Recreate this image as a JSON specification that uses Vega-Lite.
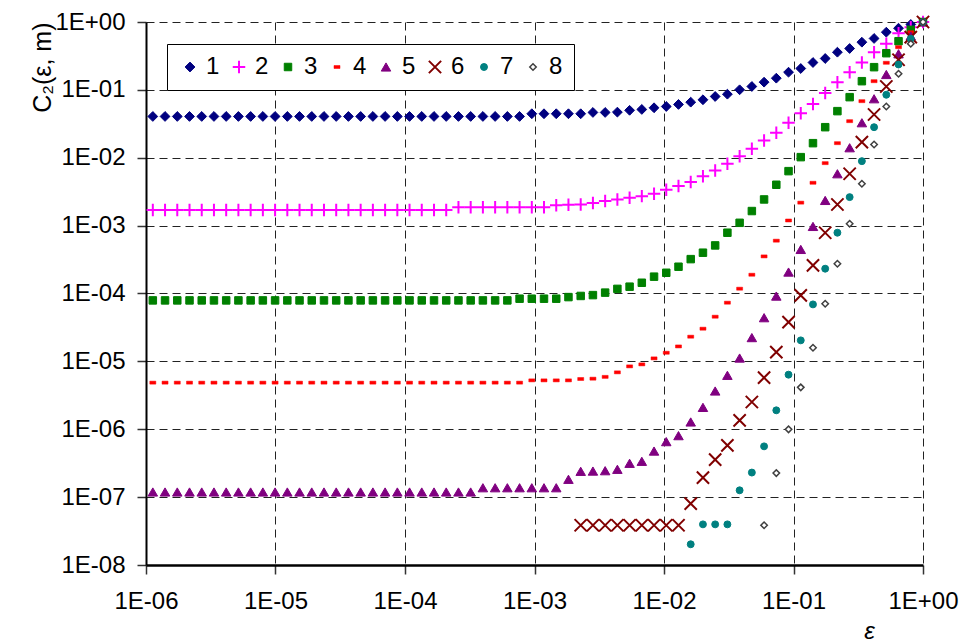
{
  "$schema": "https://vega.github.io/schema/vega-lite/v6.json",
  "width": 777,
  "height": 543,
  "autosize": {"type": "none"},
  "padding": {"left": 146, "top": 22, "right": 56, "bottom": 77},
  "background": "white",
  "config": {
    "view": {"stroke": null},
    "font": "Liberation Sans",
    "axis": {
      "labelFont": "Liberation Sans",
      "labelFontSize": 24,
      "labelColor": "black",
      "labelFlush": false,
      "labelOverlap": false,
      "titleFont": "Liberation Sans",
      "titleColor": "black",
      "titleFontWeight": "normal",
      "grid": true,
      "gridColor": "#222222",
      "gridDash": [8, 5],
      "gridWidth": 1,
      "gridOpacity": 1,
      "domainColor": "black",
      "domainWidth": 2,
      "tickColor": "#333333",
      "tickWidth": 1.5,
      "tickSize": 9
    }
  },
  "data": {"values": [
    {"m":"1","eps":1,"c2":1},{"m":"1","eps":0.8045,"c2":0.919},{"m":"1","eps":0.6473,"c2":0.81},{"m":"1","eps":0.5208,"c2":0.708},{"m":"1","eps":0.419,"c2":0.572},{"m":"1","eps":0.3373,"c2":0.504},{"m":"1","eps":0.2714,"c2":0.407},{"m":"1","eps":0.2183,"c2":0.359},{"m":"1","eps":0.1757,"c2":0.29},{"m":"1","eps":0.1414,"c2":0.253},{"m":"1","eps":0.1138,"c2":0.2066},{"m":"1","eps":0.09155,"c2":0.1822},{"m":"1","eps":0.07366,"c2":0.1487},{"m":"1","eps":0.05927,"c2":0.1299},{"m":"1","eps":0.04769,"c2":0.1122},{"m":"1","eps":0.03837,"c2":0.1003},{"m":"1","eps":0.03087,"c2":0.0864},{"m":"1","eps":0.02484,"c2":0.0799},{"m":"1","eps":0.01999,"c2":0.0715},{"m":"1","eps":0.01608,"c2":0.0659},{"m":"1","eps":0.01294,"c2":0.061},{"m":"1","eps":0.01041,"c2":0.0569},{"m":"1","eps":0.008378,"c2":0.0545},{"m":"1","eps":0.006741,"c2":0.0515},{"m":"1","eps":0.005424,"c2":0.05},{"m":"1","eps":0.004365,"c2":0.047},{"m":"1","eps":0.003512,"c2":0.0465},{"m":"1","eps":0.002826,"c2":0.0465},{"m":"1","eps":0.002274,"c2":0.0445},{"m":"1","eps":0.001829,"c2":0.0445},{"m":"1","eps":0.001472,"c2":0.0445},{"m":"1","eps":0.001184,"c2":0.0445},{"m":"1","eps":0.0009532,"c2":0.0445},{"m":"1","eps":0.000767,"c2":0.0406},{"m":"1","eps":0.0006171,"c2":0.0406},{"m":"1","eps":0.0004966,"c2":0.0406},{"m":"1","eps":0.0003995,"c2":0.0406},{"m":"1","eps":0.0003215,"c2":0.0406},{"m":"1","eps":0.0002587,"c2":0.0406},{"m":"1","eps":0.0002081,"c2":0.0406},{"m":"1","eps":0.0001675,"c2":0.0406},{"m":"1","eps":0.0001347,"c2":0.0406},{"m":"1","eps":0.0001084,"c2":0.0406},{"m":"1","eps":8.726e-5,"c2":0.0406},{"m":"1","eps":7.021e-5,"c2":0.0406},{"m":"1","eps":5.649e-5,"c2":0.0406},{"m":"1","eps":4.545e-5,"c2":0.0406},{"m":"1","eps":3.657e-5,"c2":0.0406},{"m":"1","eps":2.943e-5,"c2":0.0406},{"m":"1","eps":2.368e-5,"c2":0.0406},{"m":"1","eps":1.905e-5,"c2":0.0406},{"m":"1","eps":1.533e-5,"c2":0.0406},{"m":"1","eps":1.234e-5,"c2":0.0406},{"m":"1","eps":9.927e-6,"c2":0.0406},{"m":"1","eps":7.988e-6,"c2":0.0406},{"m":"1","eps":6.427e-6,"c2":0.0406},{"m":"1","eps":5.171e-6,"c2":0.0406},{"m":"1","eps":4.161e-6,"c2":0.0406},{"m":"1","eps":3.348e-6,"c2":0.0406},{"m":"1","eps":2.694e-6,"c2":0.0406},{"m":"1","eps":2.168e-6,"c2":0.0406},{"m":"1","eps":1.744e-6,"c2":0.0406},{"m":"1","eps":1.403e-6,"c2":0.0406},{"m":"1","eps":1.129e-6,"c2":0.0406},

    {"m":"2","eps":1,"c2":1},{"m":"2","eps":0.8045,"c2":0.838},{"m":"2","eps":0.6473,"c2":0.684},{"m":"2","eps":0.5208,"c2":0.477},{"m":"2","eps":0.419,"c2":0.359},{"m":"2","eps":0.3373,"c2":0.253},{"m":"2","eps":0.2714,"c2":0.1822},{"m":"2","eps":0.2183,"c2":0.1299},{"m":"2","eps":0.1757,"c2":0.09},{"m":"2","eps":0.1414,"c2":0.062},{"m":"2","eps":0.1138,"c2":0.0454},{"m":"2","eps":0.09155,"c2":0.0327},{"m":"2","eps":0.07366,"c2":0.0233},{"m":"2","eps":0.05927,"c2":0.018},{"m":"2","eps":0.04769,"c2":0.01356},{"m":"2","eps":0.03837,"c2":0.01056},{"m":"2","eps":0.03087,"c2":0.00816},{"m":"2","eps":0.02484,"c2":0.0065},{"m":"2","eps":0.01999,"c2":0.00536},{"m":"2","eps":0.01608,"c2":0.00438},{"m":"2","eps":0.01294,"c2":0.00382},{"m":"2","eps":0.01041,"c2":0.00338},{"m":"2","eps":0.008378,"c2":0.00295},{"m":"2","eps":0.006741,"c2":0.00272},{"m":"2","eps":0.005424,"c2":0.00258},{"m":"2","eps":0.004365,"c2":0.00243},{"m":"2","eps":0.003512,"c2":0.0023},{"m":"2","eps":0.002826,"c2":0.00215},{"m":"2","eps":0.002274,"c2":0.00205},{"m":"2","eps":0.001829,"c2":0.00203},{"m":"2","eps":0.001472,"c2":0.002},{"m":"2","eps":0.001184,"c2":0.00187},{"m":"2","eps":0.0009532,"c2":0.00187},{"m":"2","eps":0.000767,"c2":0.00187},{"m":"2","eps":0.0006171,"c2":0.00187},{"m":"2","eps":0.0004966,"c2":0.00187},{"m":"2","eps":0.0003995,"c2":0.00187},{"m":"2","eps":0.0003215,"c2":0.00187},{"m":"2","eps":0.0002587,"c2":0.00187},{"m":"2","eps":0.0002081,"c2":0.0017},{"m":"2","eps":0.0001675,"c2":0.0017},{"m":"2","eps":0.0001347,"c2":0.0017},{"m":"2","eps":0.0001084,"c2":0.0017},{"m":"2","eps":8.726e-5,"c2":0.0017},{"m":"2","eps":7.021e-5,"c2":0.0017},{"m":"2","eps":5.649e-5,"c2":0.0017},{"m":"2","eps":4.545e-5,"c2":0.0017},{"m":"2","eps":3.657e-5,"c2":0.0017},{"m":"2","eps":2.943e-5,"c2":0.0017},{"m":"2","eps":2.368e-5,"c2":0.0017},{"m":"2","eps":1.905e-5,"c2":0.0017},{"m":"2","eps":1.533e-5,"c2":0.0017},{"m":"2","eps":1.234e-5,"c2":0.0017},{"m":"2","eps":9.927e-6,"c2":0.0017},{"m":"2","eps":7.988e-6,"c2":0.0017},{"m":"2","eps":6.427e-6,"c2":0.0017},{"m":"2","eps":5.171e-6,"c2":0.0017},{"m":"2","eps":4.161e-6,"c2":0.0017},{"m":"2","eps":3.348e-6,"c2":0.0017},{"m":"2","eps":2.694e-6,"c2":0.0017},{"m":"2","eps":2.168e-6,"c2":0.0017},{"m":"2","eps":1.744e-6,"c2":0.0017},{"m":"2","eps":1.403e-6,"c2":0.0017},{"m":"2","eps":1.129e-6,"c2":0.0017},

    {"m":"3","eps":1,"c2":1},{"m":"3","eps":0.8045,"c2":0.767},{"m":"3","eps":0.6473,"c2":0.521},{"m":"3","eps":0.5208,"c2":0.347},{"m":"3","eps":0.419,"c2":0.216},{"m":"3","eps":0.3373,"c2":0.1343},{"m":"3","eps":0.2714,"c2":0.0781},{"m":"3","eps":0.2183,"c2":0.0486},{"m":"3","eps":0.1757,"c2":0.0282},{"m":"3","eps":0.1414,"c2":0.0164},{"m":"3","eps":0.1138,"c2":0.01021},{"m":"3","eps":0.09155,"c2":0.00635},{"m":"3","eps":0.07366,"c2":0.004},{"m":"3","eps":0.05927,"c2":0.00243},{"m":"3","eps":0.04769,"c2":0.00164},{"m":"3","eps":0.03837,"c2":0.0011},{"m":"3","eps":0.03087,"c2":0.000786},{"m":"3","eps":0.02484,"c2":0.000511},{"m":"3","eps":0.01999,"c2":0.000399},{"m":"3","eps":0.01608,"c2":0.000321},{"m":"3","eps":0.01294,"c2":0.000248},{"m":"3","eps":0.01041,"c2":0.000202},{"m":"3","eps":0.008378,"c2":0.000177},{"m":"3","eps":0.006741,"c2":0.000144},{"m":"3","eps":0.005424,"c2":0.000126},{"m":"3","eps":0.004365,"c2":0.000117},{"m":"3","eps":0.003512,"c2":0.000103},{"m":"3","eps":0.002826,"c2":9.47e-5},{"m":"3","eps":0.002274,"c2":9.2e-5},{"m":"3","eps":0.001829,"c2":8.85e-5},{"m":"3","eps":0.001472,"c2":8.38e-5},{"m":"3","eps":0.001184,"c2":8.38e-5},{"m":"3","eps":0.0009532,"c2":8.38e-5},{"m":"3","eps":0.000767,"c2":8.38e-5},{"m":"3","eps":0.0006171,"c2":7.91e-5},{"m":"3","eps":0.0004966,"c2":7.91e-5},{"m":"3","eps":0.0003995,"c2":7.91e-5},{"m":"3","eps":0.0003215,"c2":7.91e-5},{"m":"3","eps":0.0002587,"c2":7.91e-5},{"m":"3","eps":0.0002081,"c2":7.91e-5},{"m":"3","eps":0.0001675,"c2":7.91e-5},{"m":"3","eps":0.0001347,"c2":7.91e-5},{"m":"3","eps":0.0001084,"c2":7.91e-5},{"m":"3","eps":8.726e-5,"c2":7.91e-5},{"m":"3","eps":7.021e-5,"c2":7.91e-5},{"m":"3","eps":5.649e-5,"c2":7.91e-5},{"m":"3","eps":4.545e-5,"c2":7.91e-5},{"m":"3","eps":3.657e-5,"c2":7.91e-5},{"m":"3","eps":2.943e-5,"c2":7.91e-5},{"m":"3","eps":2.368e-5,"c2":7.91e-5},{"m":"3","eps":1.905e-5,"c2":7.91e-5},{"m":"3","eps":1.533e-5,"c2":7.91e-5},{"m":"3","eps":1.234e-5,"c2":7.91e-5},{"m":"3","eps":9.927e-6,"c2":7.91e-5},{"m":"3","eps":7.988e-6,"c2":7.91e-5},{"m":"3","eps":6.427e-6,"c2":7.91e-5},{"m":"3","eps":5.171e-6,"c2":7.91e-5},{"m":"3","eps":4.161e-6,"c2":7.91e-5},{"m":"3","eps":3.348e-6,"c2":7.91e-5},{"m":"3","eps":2.694e-6,"c2":7.91e-5},{"m":"3","eps":2.168e-6,"c2":7.91e-5},{"m":"3","eps":1.744e-6,"c2":7.91e-5},{"m":"3","eps":1.403e-6,"c2":7.91e-5},{"m":"3","eps":1.129e-6,"c2":7.91e-5},

    {"m":"4","eps":1,"c2":1},{"m":"4","eps":0.8045,"c2":0.708},{"m":"4","eps":0.6473,"c2":0.4256},{"m":"4","eps":0.5208,"c2":0.2507},{"m":"4","eps":0.419,"c2":0.1343},{"m":"4","eps":0.3373,"c2":0.0682},{"m":"4","eps":0.2714,"c2":0.0346},{"m":"4","eps":0.2183,"c2":0.0164},{"m":"4","eps":0.1757,"c2":0.00833},{"m":"4","eps":0.1414,"c2":0.00428},{"m":"4","eps":0.1138,"c2":0.00218},{"m":"4","eps":0.09155,"c2":0.00119},{"m":"4","eps":0.07366,"c2":0.0006},{"m":"4","eps":0.05927,"c2":0.000352},{"m":"4","eps":0.04769,"c2":0.000189},{"m":"4","eps":0.03837,"c2":0.0001177},{"m":"4","eps":0.03087,"c2":7.32e-5},{"m":"4","eps":0.02484,"c2":4.55e-5},{"m":"4","eps":0.01999,"c2":3.03e-5},{"m":"4","eps":0.01608,"c2":2.31e-5},{"m":"4","eps":0.01294,"c2":1.66e-5},{"m":"4","eps":0.01041,"c2":1.34e-5},{"m":"4","eps":0.008378,"c2":1.107e-5},{"m":"4","eps":0.006741,"c2":9.03e-6},{"m":"4","eps":0.005424,"c2":8.44e-6},{"m":"4","eps":0.004365,"c2":6.89e-6},{"m":"4","eps":0.003512,"c2":5.91e-6},{"m":"4","eps":0.002826,"c2":5.56e-6},{"m":"4","eps":0.002274,"c2":5.5e-6},{"m":"4","eps":0.001829,"c2":5.25e-6},{"m":"4","eps":0.001472,"c2":5.25e-6},{"m":"4","eps":0.001184,"c2":5.25e-6},{"m":"4","eps":0.0009532,"c2":5.25e-6},{"m":"4","eps":0.000767,"c2":4.86e-6},{"m":"4","eps":0.0006171,"c2":4.86e-6},{"m":"4","eps":0.0004966,"c2":4.86e-6},{"m":"4","eps":0.0003995,"c2":4.86e-6},{"m":"4","eps":0.0003215,"c2":4.86e-6},{"m":"4","eps":0.0002587,"c2":4.86e-6},{"m":"4","eps":0.0002081,"c2":4.86e-6},{"m":"4","eps":0.0001675,"c2":4.86e-6},{"m":"4","eps":0.0001347,"c2":4.86e-6},{"m":"4","eps":0.0001084,"c2":4.86e-6},{"m":"4","eps":8.726e-5,"c2":4.86e-6},{"m":"4","eps":7.021e-5,"c2":4.86e-6},{"m":"4","eps":5.649e-5,"c2":4.86e-6},{"m":"4","eps":4.545e-5,"c2":4.86e-6},{"m":"4","eps":3.657e-5,"c2":4.86e-6},{"m":"4","eps":2.943e-5,"c2":4.86e-6},{"m":"4","eps":2.368e-5,"c2":4.86e-6},{"m":"4","eps":1.905e-5,"c2":4.86e-6},{"m":"4","eps":1.533e-5,"c2":4.86e-6},{"m":"4","eps":1.234e-5,"c2":4.86e-6},{"m":"4","eps":9.927e-6,"c2":4.86e-6},{"m":"4","eps":7.988e-6,"c2":4.86e-6},{"m":"4","eps":6.427e-6,"c2":4.86e-6},{"m":"4","eps":5.171e-6,"c2":4.86e-6},{"m":"4","eps":4.161e-6,"c2":4.86e-6},{"m":"4","eps":3.348e-6,"c2":4.86e-6},{"m":"4","eps":2.694e-6,"c2":4.86e-6},{"m":"4","eps":2.168e-6,"c2":4.86e-6},{"m":"4","eps":1.744e-6,"c2":4.86e-6},{"m":"4","eps":1.403e-6,"c2":4.86e-6},{"m":"4","eps":1.129e-6,"c2":4.86e-6},

    {"m":"5","eps":1,"c2":1},{"m":"5","eps":0.8045,"c2":0.622},{"m":"5","eps":0.6473,"c2":0.34},{"m":"5","eps":0.5208,"c2":0.1685},{"m":"5","eps":0.419,"c2":0.074},{"m":"5","eps":0.3373,"c2":0.0328},{"m":"5","eps":0.2714,"c2":0.01404},{"m":"5","eps":0.2183,"c2":0.00581},{"m":"5","eps":0.1757,"c2":0.00235},{"m":"5","eps":0.1414,"c2":0.000973},{"m":"5","eps":0.1138,"c2":0.000446},{"m":"5","eps":0.09155,"c2":0.000207},{"m":"5","eps":0.07366,"c2":9.16e-5},{"m":"5","eps":0.05927,"c2":4.4e-5},{"m":"5","eps":0.04769,"c2":2.24e-5},{"m":"5","eps":0.03837,"c2":1.12e-5},{"m":"5","eps":0.03087,"c2":6.23e-6},{"m":"5","eps":0.02484,"c2":3.66e-6},{"m":"5","eps":0.01999,"c2":2.1e-6},{"m":"5","eps":0.01608,"c2":1.28e-6},{"m":"5","eps":0.01294,"c2":8.05e-7},{"m":"5","eps":0.01041,"c2":6.57e-7},{"m":"5","eps":0.008378,"c2":4.77e-7},{"m":"5","eps":0.006741,"c2":3.37e-7},{"m":"5","eps":0.005424,"c2":3.15e-7},{"m":"5","eps":0.004365,"c2":2.57e-7},{"m":"5","eps":0.003512,"c2":2.45e-7},{"m":"5","eps":0.002826,"c2":2.42e-7},{"m":"5","eps":0.002274,"c2":2.4e-7},{"m":"5","eps":0.001829,"c2":1.83e-7},{"m":"5","eps":0.001472,"c2":1.375e-7},{"m":"5","eps":0.001184,"c2":1.375e-7},{"m":"5","eps":0.0009532,"c2":1.375e-7},{"m":"5","eps":0.000767,"c2":1.375e-7},{"m":"5","eps":0.0006171,"c2":1.375e-7},{"m":"5","eps":0.0004966,"c2":1.375e-7},{"m":"5","eps":0.0003995,"c2":1.375e-7},{"m":"5","eps":0.0003215,"c2":1.19e-7},{"m":"5","eps":0.0002587,"c2":1.19e-7},{"m":"5","eps":0.0002081,"c2":1.19e-7},{"m":"5","eps":0.0001675,"c2":1.19e-7},{"m":"5","eps":0.0001347,"c2":1.19e-7},{"m":"5","eps":0.0001084,"c2":1.19e-7},{"m":"5","eps":8.726e-5,"c2":1.19e-7},{"m":"5","eps":7.021e-5,"c2":1.19e-7},{"m":"5","eps":5.649e-5,"c2":1.19e-7},{"m":"5","eps":4.545e-5,"c2":1.19e-7},{"m":"5","eps":3.657e-5,"c2":1.19e-7},{"m":"5","eps":2.943e-5,"c2":1.19e-7},{"m":"5","eps":2.368e-5,"c2":1.19e-7},{"m":"5","eps":1.905e-5,"c2":1.19e-7},{"m":"5","eps":1.533e-5,"c2":1.19e-7},{"m":"5","eps":1.234e-5,"c2":1.19e-7},{"m":"5","eps":9.927e-6,"c2":1.19e-7},{"m":"5","eps":7.988e-6,"c2":1.19e-7},{"m":"5","eps":6.427e-6,"c2":1.19e-7},{"m":"5","eps":5.171e-6,"c2":1.19e-7},{"m":"5","eps":4.161e-6,"c2":1.19e-7},{"m":"5","eps":3.348e-6,"c2":1.19e-7},{"m":"5","eps":2.694e-6,"c2":1.19e-7},{"m":"5","eps":2.168e-6,"c2":1.19e-7},{"m":"5","eps":1.744e-6,"c2":1.19e-7},{"m":"5","eps":1.403e-6,"c2":1.19e-7},{"m":"5","eps":1.129e-6,"c2":1.19e-7},

    {"m":"6","eps":1,"c2":1},{"m":"6","eps":0.8045,"c2":0.597},{"m":"6","eps":0.6473,"c2":0.2775},{"m":"6","eps":0.5208,"c2":0.1122},{"m":"6","eps":0.419,"c2":0.0434},{"m":"6","eps":0.3373,"c2":0.017},{"m":"6","eps":0.2714,"c2":0.00581},{"m":"6","eps":0.2183,"c2":0.00205},{"m":"6","eps":0.1757,"c2":0.000786},{"m":"6","eps":0.1414,"c2":0.000259},{"m":"6","eps":0.1138,"c2":9.37e-5},{"m":"6","eps":0.09155,"c2":3.79e-5},{"m":"6","eps":0.07366,"c2":1.37e-5},{"m":"6","eps":0.05927,"c2":5.75e-6},{"m":"6","eps":0.04769,"c2":2.52e-6},{"m":"6","eps":0.03837,"c2":1.35e-6},{"m":"6","eps":0.03087,"c2":5.79e-7},{"m":"6","eps":0.02484,"c2":3.56e-7},{"m":"6","eps":0.01999,"c2":1.94e-7},{"m":"6","eps":0.01608,"c2":8.02e-8},{"m":"6","eps":0.01294,"c2":3.85e-8},{"m":"6","eps":0.01041,"c2":3.85e-8},{"m":"6","eps":0.008378,"c2":3.85e-8},{"m":"6","eps":0.006741,"c2":3.85e-8},{"m":"6","eps":0.005424,"c2":3.85e-8},{"m":"6","eps":0.004365,"c2":3.85e-8},{"m":"6","eps":0.003512,"c2":3.85e-8},{"m":"6","eps":0.002826,"c2":3.85e-8},{"m":"6","eps":0.002274,"c2":3.85e-8},

    {"m":"7","eps":1,"c2":1},{"m":"7","eps":0.8045,"c2":0.566},{"m":"7","eps":0.6473,"c2":0.2366},{"m":"7","eps":0.5208,"c2":0.0847},{"m":"7","eps":0.419,"c2":0.0282},{"m":"7","eps":0.3373,"c2":0.00891},{"m":"7","eps":0.2714,"c2":0.00263},{"m":"7","eps":0.2183,"c2":0.000786},{"m":"7","eps":0.1757,"c2":0.000232},{"m":"7","eps":0.1414,"c2":6.91e-5},{"m":"7","eps":0.1138,"c2":2.04e-5},{"m":"7","eps":0.09155,"c2":6.37e-6},{"m":"7","eps":0.07366,"c2":1.9e-6},{"m":"7","eps":0.05927,"c2":5.6e-7},{"m":"7","eps":0.04769,"c2":2.3e-7},{"m":"7","eps":0.03837,"c2":1.26e-7},{"m":"7","eps":0.03087,"c2":3.97e-8},{"m":"7","eps":0.02484,"c2":3.97e-8},{"m":"7","eps":0.01999,"c2":3.97e-8},{"m":"7","eps":0.01608,"c2":2.02e-8},

    {"m":"8","eps":1,"c2":1},{"m":"8","eps":0.8045,"c2":0.4775},{"m":"8","eps":0.6473,"c2":0.1726},{"m":"8","eps":0.5208,"c2":0.0569},{"m":"8","eps":0.419,"c2":0.0157},{"m":"8","eps":0.3373,"c2":0.00414},{"m":"8","eps":0.2714,"c2":0.001067},{"m":"8","eps":0.2183,"c2":0.000275},{"m":"8","eps":0.1757,"c2":7.08e-5},{"m":"8","eps":0.1414,"c2":1.59e-5},{"m":"8","eps":0.1138,"c2":4.14e-6},{"m":"8","eps":0.09155,"c2":9.97e-7},{"m":"8","eps":0.07366,"c2":2.26e-7},{"m":"8","eps":0.05927,"c2":3.85e-8}
  ]},
  "mark": {"type": "point", "filled": true, "opacity": 1, "clip": false},
  "encoding": {
    "x": {
      "field": "eps", "type": "quantitative",
      "scale": {"type": "log", "domain": [1e-6, 1], "nice": false},
      "axis": {
        "values": [1e-6, 1e-5, 1e-4, 1e-3, 1e-2, 1e-1, 1],
        "labelExpr": "'1E' + (datum.value >= 1 ? '+' : '-') + '0' + abs(round(log(datum.value) / LN10))",
        "labelPadding": 15,
        "domainWidth": 2.5,
        "title": "ε",
        "titleFontStyle": "italic",
        "titleFontSize": 24,
        "titleX": 723,
        "titleY": 73,
        "titleAlign": "center",
        "titleBaseline": "alphabetic"
      }
    },
    "y": {
      "field": "c2", "type": "quantitative",
      "scale": {"type": "log", "domain": [1e-8, 1], "nice": false},
      "axis": {
        "values": [1e-8, 1e-7, 1e-6, 1e-5, 1e-4, 1e-3, 1e-2, 1e-1, 1],
        "labelExpr": "'1E' + (datum.value >= 1 ? '+' : '-') + '0' + abs(round(log(datum.value) / LN10))",
        "labelPadding": 12,
        "title": "C₂(ε, m)",
        "titleFontSize": 25,
        "titleAngle": -90,
        "titleAnchor": "end",
        "titleAlign": "right",
        "titleBaseline": "alphabetic",
        "encode": {
          "title": {
            "update": {
              "dy": {"value": 20}
            }
          }
        }
      }
    },
    "shape": {
      "field": "m", "type": "nominal",
      "scale": {
        "domain": ["1", "2", "3", "4", "5", "6", "7", "8"],
        "range": ["diamond", "M-1,0L1,0M0,-1L0,1", "square", "M-1,-0.5L1,-0.5L1,0.5L-1,0.5Z", "triangle-up", "M-1,-1L1,1M-1,1L1,-1", "circle", "diamond"]
      },
      "legend": {
        "orient": "none",
        "legendX": 21,
        "legendY": 22,
        "direction": "horizontal",
        "columns": 8,
        "title": null,
        "labelFont": "Liberation Sans",
        "labelFontSize": 24,
        "labelColor": "black",
        "fillColor": "white",
        "strokeColor": "black",
        "padding": 11,
        "columnPadding": 7,
        "labelOffset": 4
      }
    },
    "fill": {
      "field": "m", "type": "nominal",
      "scale": {
        "domain": ["1", "2", "3", "4", "5", "6", "7", "8"],
        "range": ["#000080", "transparent", "#008000", "#FF0000", "#800080", "transparent", "#008080", "#FFFFFF"]
      }
    },
    "stroke": {
      "field": "m", "type": "nominal",
      "scale": {
        "domain": ["1", "2", "3", "4", "5", "6", "7", "8"],
        "range": ["#000080", "#FF00FF", "#008000", "#FF0000", "#800080", "#800000", "#008080", "#404040"]
      }
    },
    "size": {
      "field": "m", "type": "nominal",
      "scale": {
        "type": "ordinal",
        "domain": ["1", "2", "3", "4", "5", "6", "7", "8"],
        "range": [96, 156, 56, 36, 90, 150, 48, 42]
      }
    },
    "strokeWidth": {
      "field": "m", "type": "nominal",
      "scale": {
        "type": "ordinal",
        "domain": ["1", "2", "3", "4", "5", "6", "7", "8"],
        "range": [1, 2, 1, 0.5, 1, 2, 1, 1.5]
      }
    }
  }
}
